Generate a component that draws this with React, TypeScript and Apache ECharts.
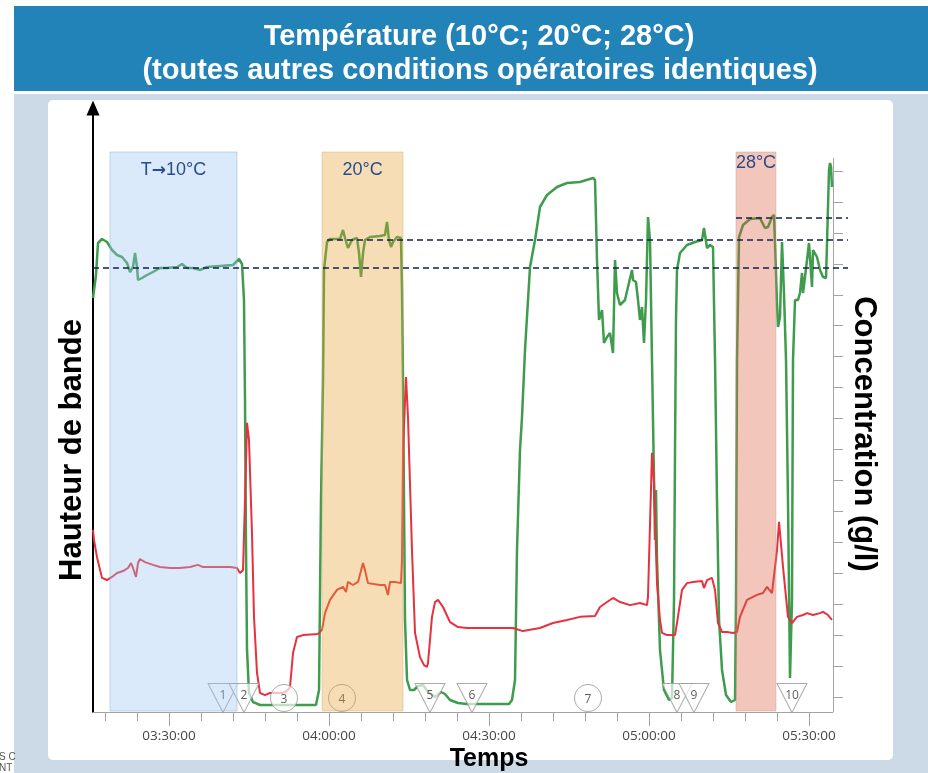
import React, { useEffect, useRef } from "react";
import * as echarts from "echarts";

// ---- Data (times in minutes after midnight) ----
// Green: hauteur de bande (arbitrary units)
const greenTimes = [195.75, 196.31, 196.69, 197.44, 198.38, 199.31, 200.25, 201.19, 202.13, 202.69,
  203.25, 203.63, 204, 204.19, 204.94, 205.88, 207, 208.31, 209.63, 211.5,
  212.44, 213.38, 214.5, 215.81, 217.13, 219.56, 222, 223.13, 223.69, 224.06,
  224.25, 224.44, 224.63, 225, 225.75, 227.06, 230.81, 234.56, 237.56, 238.13,
  238.5, 238.88, 239.06, 239.63, 240.19, 242.06, 242.63, 243, 243.56, 244.31,
  245.25, 245.63, 246, 246.38, 246.75, 247.69, 249.56, 250.5, 250.88, 251.25,
  251.63, 252, 252.75, 253.5, 253.69, 253.88, 254.06, 254.25, 254.63, 255.19,
  255.94, 256.69, 257.63, 258.56, 259.88, 261, 261.75, 262.69, 264.19, 265.88,
  270.19, 273.75, 274.31, 274.88, 275.25, 275.81, 276.19, 276.75, 277.69, 278.63,
  279.56, 280.88, 282.75, 284.63, 287.06, 289.5, 289.88, 290.25, 290.63, 291.19,
  291.56, 292.13, 292.69, 293.25, 293.63, 294, 294.56, 295.5, 296.06, 296.81,
  297, 297.56, 297.94, 298.31, 298.69, 299.06, 299.44, 299.81, 300.19, 300.56,
  300.75, 301.13, 301.31, 301.5, 302.06, 302.81, 303.75, 304.31, 304.69, 304.88,
  305.06, 305.25, 305.81, 307.13, 308.63, 309.94, 310.31, 310.88, 311.44, 312,
  312.38, 312.75, 313.13, 313.69, 314.44, 315.38, 316.13, 316.31, 316.5, 316.88,
  317.63, 318.94, 320.81, 321.75, 322.31, 323.06, 323.44, 323.63, 324, 324.19,
  324.56, 324.94, 325.31, 325.69, 326.06, 326.44, 326.81, 327, 327.38, 327.94,
  328.31, 328.69, 328.88, 329.63, 330, 330.56, 330.75, 331.5, 332.06, 332.63,
  333.19, 333.38, 333.75, 333.94, 334.13, 334.31];
const greenValues = [414, 437, 469, 473, 470, 462, 457, 455, 449, 440,
  445, 459, 445, 432, 434, 437, 440, 444, 444, 445,
  448, 444, 444, 442, 445, 446, 447, 453, 448, 412,
  312, 162, 62, 19, 10, 7, 7, 7, 7, 22,
  212, 332, 442, 470, 473, 473, 482, 474, 464, 472,
  474, 459, 435, 459, 472, 475, 476, 477, 490, 472,
  465, 470, 475, 474, 422, 332, 212, 92, 32, 22,
  22, 26, 27, 20, 15, 20, 18, 12, 9, 8,
  8, 8, 12, 32, 162, 262, 295, 362, 445, 472,
  505, 517, 525, 529, 530, 534, 532, 452, 392, 402,
  369, 375, 379, 359, 452, 419, 407, 412, 425, 442,
  432, 430, 412, 392, 405, 369, 412, 495, 472, 352,
  292, 172, 222, 152, 62, 22, 12, 14, 112, 262,
  392, 442, 459, 467, 470, 472, 484, 464, 467, 465,
  352, 212, 92, 42, 17, 10, 12, 112, 352, 475,
  487, 493, 494, 484, 485, 495, 497, 469, 409, 385,
  395, 470, 419, 352, 212, 34, 112, 352, 412, 412,
  419, 439, 419, 452, 469, 425, 462, 455, 442, 435,
  434, 469, 542, 549, 545, 525];

// Red: concentration (right axis units)
const redTimes = [195.75, 195.94, 196.5, 197.44, 198.38, 199.31, 200.25, 201.38, 202.31, 202.88,
  203.25, 203.81, 204.19, 204.56, 205.5, 207, 208.31, 210.19, 212.06, 213.94,
  215.44, 216.38, 219, 221.44, 222.75, 223.31, 223.88, 224.25, 224.63, 225,
  225.56, 225.94, 226.5, 227.06, 228, 228.94, 229.88, 231.38, 232.31, 232.69,
  233.25, 234, 235.13, 237.94, 238.69, 239.25, 240.19, 241.5, 242.63, 243.19,
  243.56, 244.5, 245.44, 246.38, 246.75, 247.31, 249.56, 250.5, 251.06, 251.44,
  252.38, 253.5, 253.69, 253.88, 254.44, 254.81, 255.56, 256.13, 257.06, 257.81,
  258.38, 258.56, 259.31, 259.88, 260.44, 261.38, 262.69, 264.19, 265.88, 268.88,
  272.06, 274.5, 276.38, 279.56, 282, 284.63, 287.06, 289.88, 290.81, 292.13,
  293.25, 294.56, 296.44, 298.31, 299.63, 299.81, 300.56, 300.94, 301.5, 302.06,
  302.44, 303.38, 304.88, 305.25, 306.19, 307.13, 308.25, 309.94, 310.31, 310.88,
  311.81, 312.38, 312.94, 313.69, 314.63, 315.75, 316.5, 317.06, 318.38, 320.25,
  321.38, 322.13, 323.06, 324, 324.38, 325.13, 326.06, 326.81, 327.75, 328.88,
  329.63, 330.75, 332.06, 332.63, 333.56, 334.31];
const redValues = [5.40, 5.07, 4.52, 3.85, 3.78, 3.88, 4.01, 4.07, 4.17, 4.33,
  4.17, 3.88, 4.33, 4.46, 4.36, 4.27, 4.20, 4.17, 4.17, 4.20,
  4.27, 4.20, 4.20, 4.20, 4.17, 4.01, 4.10, 6.37, 8.86, 8.31,
  5.30, 2.59, 0.78, 0.13, 0.06, 0.13, 0.13, 0.13, 0.23, 0.32,
  1.42, 1.94, 2.00, 2.04, 2.17, 2.71, 3.14, 3.46, 3.56, 3.39,
  3.72, 3.62, 3.72, 4.33, 4.10, 3.68, 3.62, 3.62, 3.30, 3.72,
  3.72, 3.68, 4.43, 7.98, 10.34, 9.05, 4.75, 2.07, 1.29, 1.03,
  0.97, 1.10, 2.59, 3.07, 3.14, 2.91, 2.42, 2.26, 2.23, 2.23,
  2.23, 2.23, 2.13, 2.23, 2.39, 2.49, 2.59, 2.62, 2.91, 3.07,
  3.20, 3.07, 2.97, 3.04, 2.97, 3.23, 7.89, 6.92, 3.68, 2.49,
  2.07, 2.00, 2.00, 2.39, 3.46, 3.68, 3.72, 3.75, 3.52, 3.78,
  3.85, 3.46, 2.39, 2.10, 2.10, 2.07, 2.10, 2.59, 3.14, 3.30,
  3.36, 3.56, 3.36, 4.75, 5.66, 4.20, 2.59, 2.39, 2.59, 2.65,
  2.71, 2.65, 2.71, 2.75, 2.65, 2.49];

// Temperature zones
const zoneStarts = [198.94, 238.69, 316.31];
const zoneEnds = [222.75, 253.88, 323.81];
const zoneLabels = ["T\u219210\u00b0C", "20\u00b0C", "28\u00b0C"];
const zoneBottom = 1;
const zoneTop = 560;

// Reference levels (dashed)
const levelValues = [494, 472, 444];
const levelStarts = [316.31, 239.63, 195.75];
const levelEnd = 337.31;

// Event markers
const markerTimes = [220.13, 224.06, 231.56, 242.44, 258.94, 266.81, 288.56, 305.25, 308.44, 326.81];
const markerLabels = ["1", "2", "3", "4", "5", "6", "7", "8", "9", "10"];
const markerKinds = ["tri", "tri", "circle", "circle", "tri", "tri", "circle", "tri", "tri", "tri"];
const markerLevel = 14;

// ---- Styles ----
const AXIS_GREY = "#a3a3a3";
const FONT = "Liberation Sans, Arial, sans-serif";
const zoneFills = ["rgba(155,198,241,0.36)", "rgba(229,161,49,0.36)", "rgba(218,98,64,0.36)"];
const zoneBorders = ["rgba(150,175,205,0.5)", "rgba(210,170,110,0.4)", "rgba(200,150,140,0.4)"];
const zoneLabelDistance = [8, 8, 1];

const pad = (n: number) => (n < 10 ? "0" + n : "" + n);
const fmtTime = (v: number) => {
  const h = Math.floor(v / 60);
  const m = Math.round(v - h * 60);
  return pad(h) + ":" + pad(m) + ":00";
};

export default function App() {
  const ref = useRef<HTMLDivElement>(null);
  useEffect(() => {
    if (!ref.current) return;
    const chart = echarts.init(ref.current, undefined, { renderer: "svg" });

    const zones = zoneStarts.map((s, i) => [
      {
        name: zoneLabels[i],
        xAxis: s,
        yAxis: zoneBottom,
        itemStyle: { color: zoneFills[i], borderColor: zoneBorders[i], borderWidth: 1 },
        label: { distance: zoneLabelDistance[i] },
      },
      { xAxis: zoneEnds[i], yAxis: zoneTop },
    ]);

    const levelSeries = levelValues.map((lv, i) => ({
      type: "line",
      xAxisIndex: 4,
      yAxisIndex: 4,
      data: [[levelStarts[i], lv], [levelEnd, lv]],
      symbol: "none",
      silent: true,
      z: 11,
      lineStyle: { color: "#13204d", width: 1.4, type: [6, 4] },
    }));

    const markers = markerTimes.map((t, i) => {
      const tri = markerKinds[i] === "tri";
      return {
        name: markerLabels[i],
        value: [t, markerLevel],
        symbol: tri ? "triangle" : "circle",
        symbolSize: tri ? [30, 29] : 27,
        symbolRotate: tri ? 180 : 0,
        label: { offset: tri ? [0, -4] : [0, 0] },
      };
    });

    const gridBase = { outerBoundsMode: "none", containLabel: false };

    const option: any = {
      animation: false,
      graphic: [
        { type: "rect", z: -10, shape: { x: 14, y: 94, width: 914, height: 679 }, style: { fill: "#ccdae8" } },
        { type: "rect", z: -9, shape: { x: 48, y: 100, width: 845, height: 660, r: 5 }, style: { fill: "#ffffff" } },
        { type: "rect", z: -9, shape: { x: 14, y: 6, width: 914, height: 85 }, style: { fill: "#2183b7" } },
        {
          type: "text", x: 479, y: 35, z: 5,
          style: { text: "Temp\u00e9rature (10\u00b0C; 20\u00b0C; 28\u00b0C)", fill: "#ffffff", fontSize: 29, fontWeight: "bold", fontFamily: FONT, align: "center", verticalAlign: "middle" },
        },
        {
          type: "text", x: 480, y: 69, z: 5,
          style: { text: "(toutes autres conditions op\u00e9ratoires identiques)", fill: "#ffffff", fontSize: 29, fontWeight: "bold", fontFamily: FONT, align: "center", verticalAlign: "middle" },
        },
        {
          type: "text", x: 70, y: 450, rotation: Math.PI / 2, z: 5,
          style: { text: "Hauteur de bande", fill: "#000000", fontSize: 31, fontWeight: "bold", fontFamily: FONT, align: "center", verticalAlign: "middle" },
        },
        { type: "text", x: -1, y: 751, z: 5, style: { text: "S C", fill: "#555555", fontSize: 10, fontFamily: FONT } },
        { type: "text", x: -1, y: 762, z: 5, style: { text: "NT", fill: "#555555", fontSize: 10, fontFamily: FONT } },
        { type: "line", z: 1, shape: { x1: 833.5, y1: 158, x2: 833.5, y2: 712 }, style: { stroke: AXIS_GREY, lineWidth: 1 } },
      ],
      grid: [
        { ...gridBase, left: 93, right: 95, top: 108, bottom: 61 },
        { ...gridBase, left: 93, right: 95, top: 171, bottom: 76 },
        { ...gridBase, left: 105, right: 119, top: 108, bottom: 61 },
        { ...gridBase, left: 169, right: 119, top: 108, bottom: 61 },
        { ...gridBase, left: 93, right: 80, top: 108, bottom: 61 },
      ],
      xAxis: [
        { gridIndex: 0, type: "value", position: "bottom", min: 195.75, max: 334.5, axisLine: { show: true, onZero: false, lineStyle: { color: AXIS_GREY, width: 1 } }, axisTick: { show: false }, axisLabel: { show: false }, splitLine: { show: false } },
        { gridIndex: 1, type: "value", min: 195.75, max: 334.5, show: false },
        { gridIndex: 2, type: "value", position: "bottom", min: 198, max: 330, interval: 6, axisLine: { show: false, onZero: false }, axisTick: { show: true, inside: false, length: 9, lineStyle: { color: AXIS_GREY } }, axisLabel: { show: false }, splitLine: { show: false } },
        {
          gridIndex: 3, type: "value", position: "bottom", min: 210, max: 330, interval: 30,
          axisLine: { show: false, onZero: false },
          axisTick: { show: true, inside: false, length: 14, lineStyle: { color: AXIS_GREY } },
          axisLabel: { show: true, inside: false, formatter: fmtTime, margin: 16, color: "#464646", fontSize: 13.5, fontFamily: "Open Sans, sans-serif", showMinLabel: true, showMaxLabel: true },
          splitLine: { show: false },
          name: "Temps", nameLocation: "middle", nameGap: 32, nameMoveOverlap: false,
          nameTextStyle: { fontSize: 25, fontWeight: "bold", color: "#000000", fontFamily: FONT },
        },
        { gridIndex: 4, type: "value", min: 195.75, max: 337.31, show: false },
      ],
      yAxis: [
        {
          gridIndex: 0, type: "value", min: 0, max: 604,
          axisLine: { show: true, onZero: false, symbol: ["none", "triangle"], symbolSize: [13, 15], lineStyle: { color: "#000000", width: 2 } },
          axisTick: { show: false }, axisLabel: { show: false }, splitLine: { show: false },
        },
        {
          gridIndex: 1, type: "value", position: "right", min: 0, max: 17, interval: 1,
          axisLine: { show: true, onZero: false, lineStyle: { color: AXIS_GREY, width: 1 } },
          axisTick: { show: true, length: 10, lineStyle: { color: AXIS_GREY } },
          axisLabel: { show: false }, splitLine: { show: false },
          name: "Concentration (g/l)", nameLocation: "middle", nameRotate: -90, nameGap: 17, nameMoveOverlap: false,
          nameTextStyle: { fontSize: 31, fontWeight: "bold", color: "#000000", fontFamily: FONT },
        },
        { gridIndex: 2, type: "value", min: 0, max: 1, show: false },
        { gridIndex: 3, type: "value", min: 0, max: 1, show: false },
        { gridIndex: 4, type: "value", min: 0, max: 604, show: false },
      ],
      series: [
        {
          name: "Hauteur de bande",
          type: "line",
          xAxisIndex: 0,
          yAxisIndex: 0,
          data: greenTimes.map((t, i) => [t, greenValues[i]]),
          symbol: "none",
          z: 3,
          lineStyle: { color: "#3e9c4c", width: 2.5 },
          markArea: {
            z: 10,
            silent: true,
            label: {
              show: true, position: "insideTop", color: "#2b4c89", fontSize: 18, fontFamily: FONT,
              formatter: (p: any) => String(p.name).replace("\u2192", "{arr|\u2192}"),
              rich: { arr: { fontFamily: "DejaVu Sans", fontWeight: "bold", fontSize: 17, color: "#2b4c89" } },
            },
            data: zones,
          },
        },
        {
          name: "Concentration",
          type: "line",
          xAxisIndex: 1,
          yAxisIndex: 1,
          data: redTimes.map((t, i) => [t, redValues[i]]),
          symbol: "none",
          z: 4,
          lineStyle: { color: "#e5323e", width: 2 },
        },
        ...levelSeries,
        {
          name: "Evenements",
          type: "scatter",
          xAxisIndex: 0,
          yAxisIndex: 0,
          data: markers,
          z: 5,
          silent: true,
          itemStyle: { color: "rgba(255,255,255,0.85)", borderColor: "#959595", borderWidth: 1 },
          label: { show: true, position: "inside", formatter: "{b}", color: "#333333", fontSize: 12, fontFamily: "Open Sans, sans-serif" },
        },
      ],
    };
    chart.setOption(option);
    return () => chart.dispose();
  }, []);
  return <div ref={ref} style={{ position: "fixed", left: 0, top: 0, width: 928, height: 773 }} />;
}
